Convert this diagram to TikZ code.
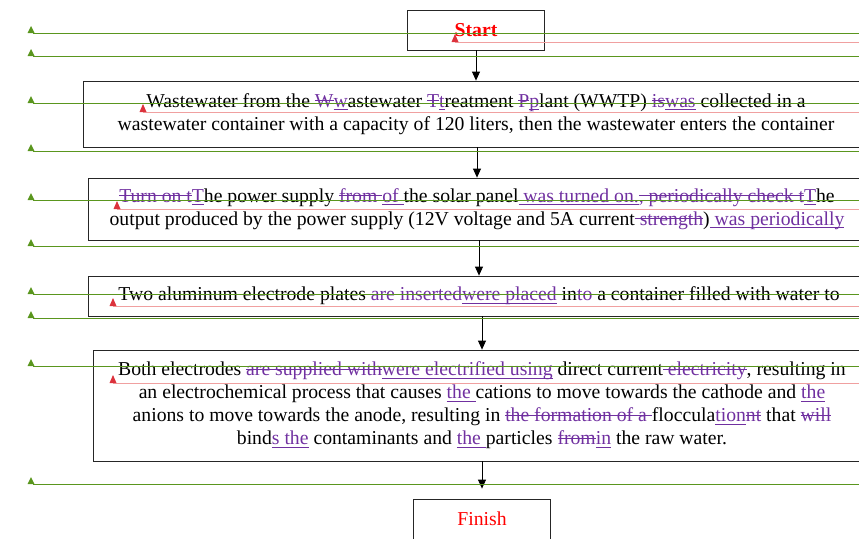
\documentclass[tikz,border=0pt]{standalone}
\usepackage{fontspec}
\setmainfont{Liberation Serif}
\usetikzlibrary{arrows.meta,positioning}
\definecolor{revpurple}{RGB}{112,48,160}
\definecolor{markgreen}{RGB}{90,150,30}
\definecolor{markpink}{RGB}{240,160,160}
\definecolor{markred}{RGB}{220,50,60}
\newsavebox{\revbox}
\newcommand{\revdel}[1]{{\color{revpurple}\sbox{\revbox}{#1}\rlap{\rule[0.3em]{\wd\revbox}{0.05em}}\usebox{\revbox}}}
\newcommand{\revins}[1]{{\color{revpurple}\sbox{\revbox}{#1}\rlap{\rule[-0.16em]{\wd\revbox}{0.05em}}\usebox{\revbox}}}

\begin{document}
\begin{tikzpicture}[x=1pt, y=-1pt,
  box/.style={draw=black!85, line width=0.8pt, inner sep=0pt, align=center, font=\fontsize{19.7}{23}\selectfont},
  term/.style={box, minimum width=137pt, minimum height=40pt, text=red},
  flow/.style={-{Triangle[length=9pt,width=8pt]}, line width=0.8pt},
  greenmark/.style={markgreen, dash pattern=on 1.5pt off 0.5pt, line width=0.9pt},
  pinkmark/.style={markpink, dash pattern=on 1.5pt off 0.5pt, line width=0.7pt}]
  \useasboundingbox (0,0) rectangle (859,538);
  \clip (0,0) rectangle (859,538);

  \node[term, font=\fontsize{19.7}{23}\selectfont\bfseries] (start) at (476,30) {Start};
  \node[box, minimum width=786pt, minimum height=66pt] (b1) at (476,114)
    {Wastewater from the \revdel{W}\revins{w}astewater \revdel{T}\revins{t}reatment \revdel{P}\revins{p}lant (WWTP) \revdel{is}\revins{was} collected in a\\
     wastewater container with a capacity of 120 liters, then the wastewater enters the container};
  \node[box, minimum width=778pt, minimum height=62pt] (b2) at (477,209)
    {\revdel{Turn on t}\revins{T}he power supply \revdel{from }\revins{of }the solar panel\revins{ was turned on.}\revdel{, periodically check t}\revins{T}he\\
     output produced by the power supply (12V voltage and 5A current\revdel{ strength})\revins{ was periodically}};
  \node[box, minimum width=782pt, minimum height=40pt] (b3) at (479,296)
    {Two aluminum electrode plates \revdel{are inserted}\revins{were placed} in\revdel{to} a container filled with water to};
  \node[box, minimum width=778pt, minimum height=111pt] (b4) at (482,405.5)
    {Both electrodes \revdel{are supplied with}\revins{were electrified using} direct current\revdel{ electricity}, resulting in\\
     an electrochemical process that causes \revins{the }cations to move towards the cathode and \revins{the}\\
     anions to move towards the anode, resulting in \revdel{the formation of a }floccula\revins{tion}\revdel{nt} that \revdel{will}\\
     bind\revins{s the} contaminants and \revins{the }particles \revdel{from}\revins{in} the raw water.};
  \node[term] (finish) at (482,519) {Finish};

  \draw[flow] (start.south) -- (start.south |- b1.north);
  \draw[flow] (b1.south -| b2) -- (b2.north);
  \draw[flow] (b2.south -| b3) -- (b3.north);
  \draw[flow] (b3.south -| b4) -- (b4.north);
  \draw[flow, shorten >=10pt] (b4.south) -- (finish.north);

  \foreach \x/\y in {455/42, 143/112, 117/209, 113/306, 113/383} {
    \draw[pinkmark] (\x,\y) -- (859,\y);
    \fill[markred] (\x-3.5,\y) -- (\x+3.5,\y) -- (\x,\y-8) -- cycle;
  }
  \foreach \y in {33,56,103,151,200,246,294,318,366,484} {
    \draw[greenmark] (33,\y) -- (859,\y);
    \fill[markgreen] (27.5,\y) -- (34.5,\y) -- (31,\y-7) -- cycle;
  }
\end{tikzpicture}
\end{document}
